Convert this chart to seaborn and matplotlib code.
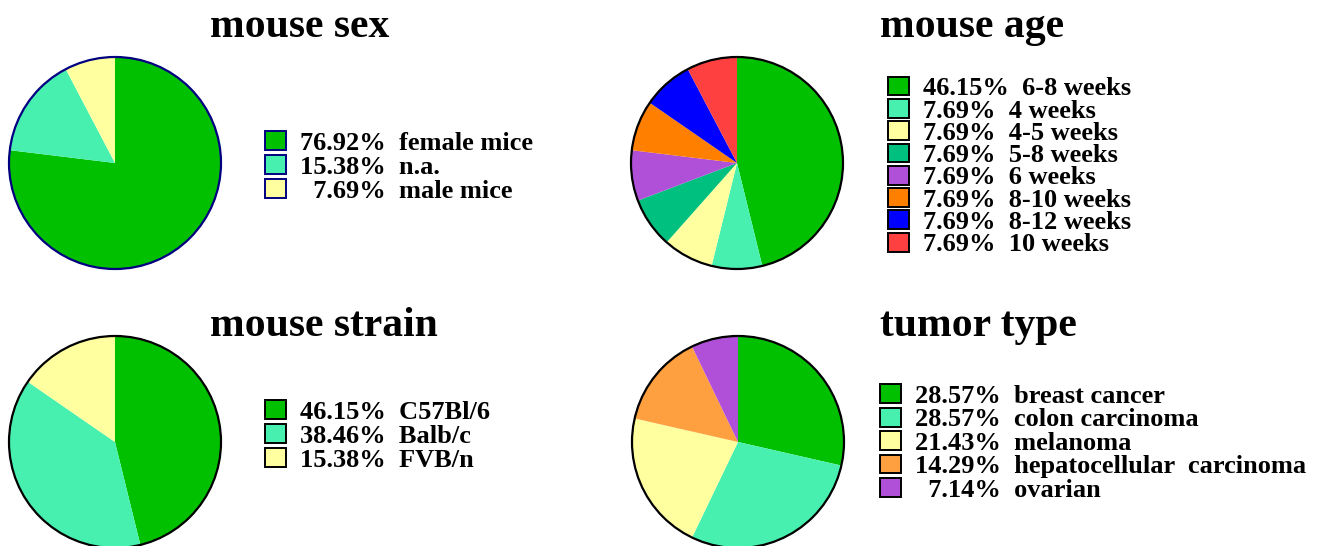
import matplotlib
matplotlib.use("Agg")
import matplotlib.pyplot as plt
import seaborn as sns
from matplotlib.patches import Patch, Circle

sns.set_theme(style="white")
plt.rcParams['font.family'] = ['Liberation Serif', 'DejaVu Serif']
plt.rcParams['font.weight'] = 'bold'
plt.rcParams['text.color'] = 'black'

# datos de cada panel
sex_labels = ['female mice', 'n.a.', 'male mice']
sex_pct = [76.92, 15.38, 7.69]
sex_colors = ['#00C000', '#48F0B0', '#FFFFA0']

age_labels = ['6-8 weeks', '4 weeks', '4-5 weeks', '5-8 weeks', '6 weeks',
              '8-10 weeks', '8-12 weeks', '10 weeks']
age_pct = [46.15, 7.69, 7.69, 7.69, 7.69, 7.69, 7.69, 7.69]
age_colors = ['#00C000', '#48F0B0', '#FFFFA0', '#00C080', '#B050D8',
              '#FF8000', '#0000FF', '#FF4040']

strain_labels = ['C57Bl/6', 'Balb/c', 'FVB/n']
strain_pct = [46.15, 38.46, 15.38]
strain_colors = ['#00C000', '#48F0B0', '#FFFFA0']

tumor_labels = ['breast cancer', 'colon carcinoma', 'melanoma',
                'hepatocellular  carcinoma', 'ovarian']
tumor_pct = [28.57, 28.57, 21.43, 14.29, 7.14]
tumor_colors = ['#00C000', '#48F0B0', '#FFFFA0', '#FFA040', '#B050D8']

W, H = 1318, 546
fig = plt.figure(figsize=(W / 100, H / 100), dpi=100)
R = 106


def fmt(p, pad):
    s = f"{p:.2f}%"
    if pad:
        s = s.rjust(6, '\u2007')
    return s


def panel(title, tx, ty, cx, cy, pct, labels, colors, edge,
          lx, ly, spacing, pad):
    ax = fig.add_axes([(cx - R) / W, (H - cy - R) / H, 2 * R / W, 2 * R / H])
    ax.pie(pct, colors=colors, startangle=90, counterclock=False,
           wedgeprops=dict(linewidth=0))
    ax.add_patch(Circle((0, 0), 1, fill=False, edgecolor=edge, lw=1.6, clip_on=False))
    ax.set_xlim(-1, 1)
    ax.set_ylim(-1, 1)
    ax.axis('off')
    fig.text(tx / W, 1 - ty / H, title, ha='left', va='baseline',
             fontsize=30, fontweight='bold')
    handles = [Patch(facecolor=c, edgecolor=edge, lw=1.4) for c in colors]
    texts = [f"{fmt(p, pad)}  {l}" for p, l in zip(pct, labels)]
    fig.legend(handles, texts, loc='center left',
               bbox_to_anchor=(lx / W, 1 - ly / H), bbox_transform=fig.transFigure,
               frameon=False, borderpad=0, borderaxespad=0,
               handlelength=0.78, handleheight=0.72, handletextpad=0.55,
               labelspacing=spacing, prop=dict(size=19, weight='bold'))


panel('mouse sex', 210, 37, 115, 163, sex_pct, sex_labels, sex_colors,
      '#000080', 265, 167, 0.02, True)
panel('mouse age', 880, 37, 737, 163, age_pct, age_labels, age_colors,
      'black', 888, 166.5, -0.05, False)
panel('mouse strain', 210, 336, 115, 442, strain_pct, strain_labels, strain_colors,
      'black', 265, 436, 0.02, False)
panel('tumor type', 880, 336, 738, 442, tumor_pct, tumor_labels, tumor_colors,
      'black', 880, 443, -0.01, True)

fig.savefig('out.png', dpi=100)
